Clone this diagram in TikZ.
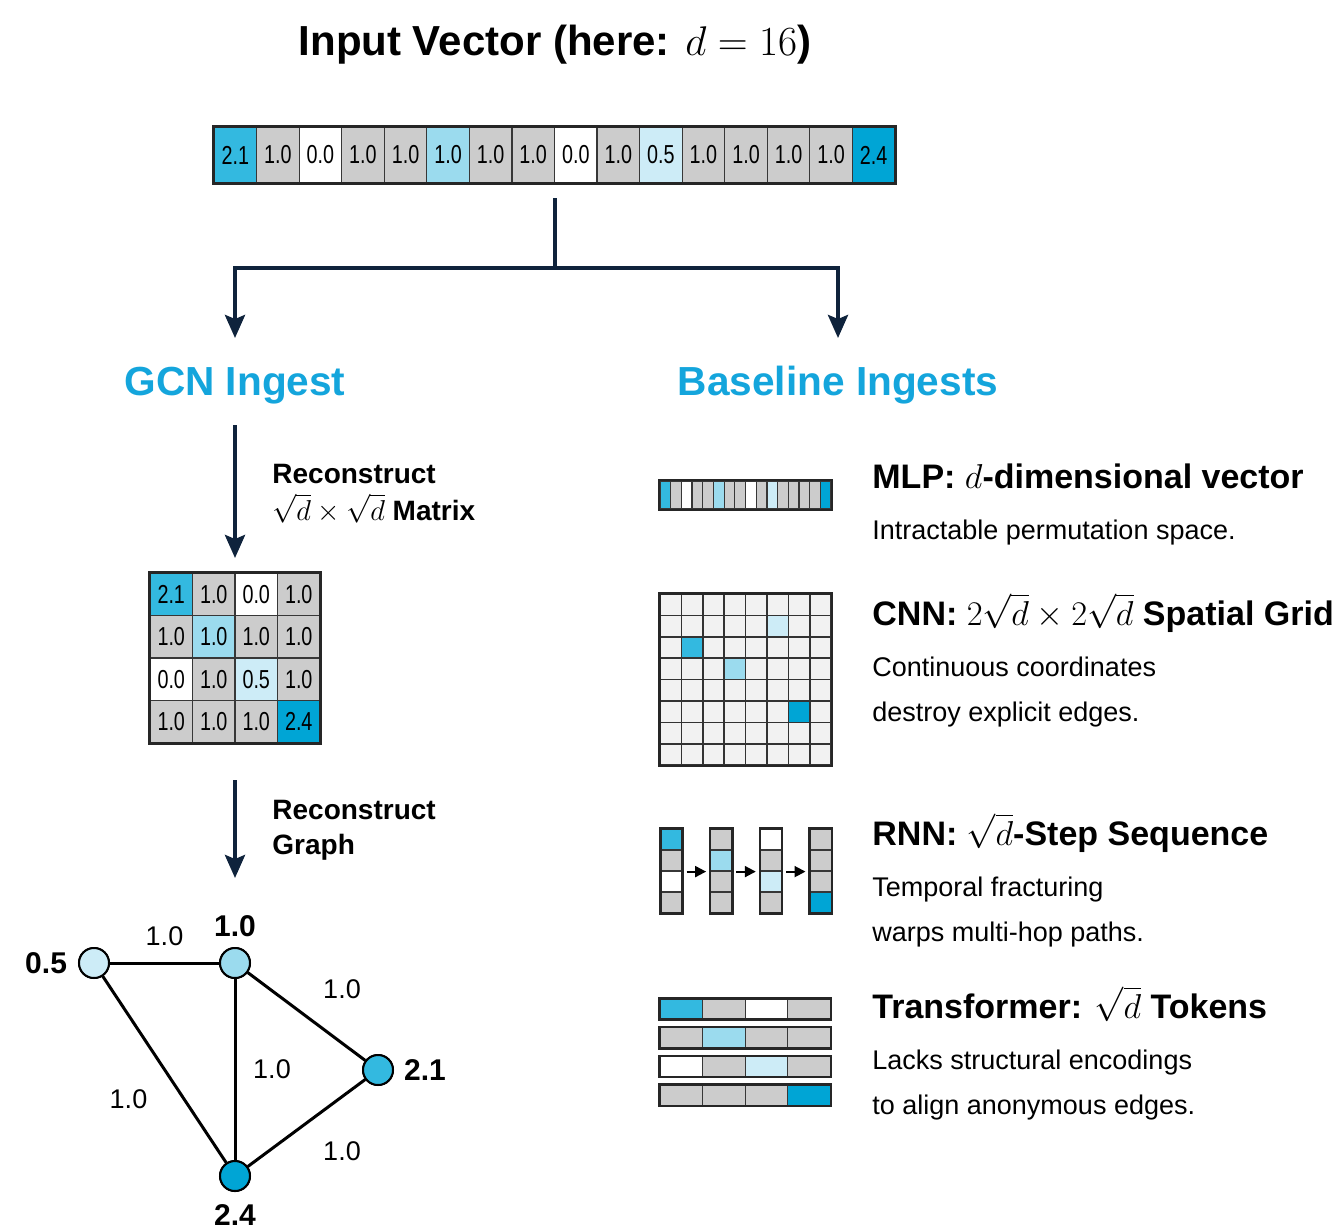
\documentclass[tikz,border=0pt]{standalone}
\usepackage[no-math]{fontspec}
\setmainfont{Liberation Sans}
\newfontfamily\cellfont[FakeStretch=0.76]{Liberation Sans}
\usetikzlibrary{arrows.meta}
\usetikzlibrary{positioning}

\definecolor{cmid}{RGB}{51,185,224}
\definecolor{clight}{RGB}{155,219,238}
\definecolor{cpale}{RGB}{205,236,247}
\definecolor{cdark}{RGB}{0,165,213}
\definecolor{cgray}{RGB}{204,204,204}
\definecolor{gridfill}{RGB}{242,242,242}
\definecolor{cellline}{RGB}{55,55,55}
\definecolor{navy}{RGB}{15,35,60}
\definecolor{headcyan}{RGB}{20,165,220}

\tikzset{
  cell/.style={draw=cellline, line width=0.6pt, inner sep=0pt, minimum width=21.28pt, minimum height=28pt,
    font=\cellfont\fontsize{13}{13}\selectfont},
  mcell/.style={cell, minimum width=21.25pt, minimum height=21.25pt},
  stripcell/.style={draw=cellline, line width=0.6pt, inner sep=0pt, minimum width=5.34pt, minimum height=14pt},
  gcell/.style={draw=black!80, fill=gridfill, line width=0.8pt, inner sep=0pt, minimum size=10.7pt},
  rcell/.style={draw=cellline, line width=0.6pt, inner sep=0pt, minimum width=10.5pt, minimum height=10.5pt},
  tcell/.style={draw=cellline, line width=0.6pt, inner sep=0pt, minimum width=21.25pt, minimum height=10pt},
  outer/.style={draw=black!85, line width=1.4pt},
  flow/.style={draw=navy, line width=2pt, -{Stealth[length=11.5pt,width=10pt,inset=2pt]}},
  tiny arrow/.style={draw=black, line width=1pt, -{Triangle[length=5.5pt,width=5.5pt]}},
  bigtitle/.style={font=\fontsize{21}{25}\selectfont\bfseries},
  heading/.style={font=\fontsize{20.3}{25}\selectfont\bfseries, text=headcyan},
  steplab/.style={font=\fontsize{14}{17}\selectfont\bfseries, inner sep=0pt},
  mtitle/.style={font=\fontsize{17}{20}\selectfont\bfseries, inner sep=0pt, anchor=base west},
  mdesc/.style={font=\fontsize{13.5}{16}\selectfont, inner sep=0pt, anchor=base west},
  vertex/.style={circle, draw=black, line width=1pt, minimum size=15pt, inner sep=0pt},
  vlab/.style={font=\fontsize{15}{18}\selectfont\bfseries},
  elab/.style={font=\fontsize{13.5}{16}\selectfont, inner sep=0pt},
  edge/.style={draw=black, line width=1.5pt},
  % highlighted squares of the spatial grid
  g26/.style={fill=cpale}, g32/.style={fill=cmid}, g44/.style={fill=clight}, g67/.style={fill=cdark}
}

\begin{document}
\begin{tikzpicture}[x=0.5pt,y=-0.5pt]
\useasboundingbox (0,0) rectangle (1342,1231);

%title
\node[bigtitle, anchor=base] (title) at (555,55) {Input Vector (here: $d=16$)};

%input vector
\foreach \val/\col [count=\i] in {2.1/cmid,1.0/cgray,0.0/white,1.0/cgray,1.0/cgray,1.0/clight,1.0/cgray,1.0/cgray,
    0.0/white,1.0/cgray,0.5/cpale,1.0/cgray,1.0/cgray,1.0/cgray,1.0/cgray,2.4/cdark}
  \node[cell, fill=\col] (v\i) at ({214+42.56*(\i-0.5)},155) {\val};
\draw[outer] (v1.north west) rectangle (v16.south east);

%split into the two ingests
\coordinate (vout) at (555,198);
\coordinate (split) at (555,268);
\coordinate (gcnin) at (235,338);
\coordinate (basein) at (838,338);
\draw[navy, line width=2pt] (vout) -- (split);
\draw[flow] (split) -| (gcnin);
\draw[flow] (split) -| (basein);

\node[heading, anchor=base] (gcn) at (235,395) {GCN Ingest};
\node[heading, anchor=base] (base) at (838,395) {Baseline Ingests};

%gcn: vector -> matrix
\coordinate (a1s) at (235,425);
\coordinate (a1e) at (235,558);
\draw[flow] (a1s) -- (a1e);
\node[steplab, anchor=base west] (rec1) at (272,483) {Reconstruct};
\node[steplab, anchor=base west] (rec1b) at (272,520) {$\sqrt{d}\times\sqrt{d}$ Matrix};

\foreach \row [count=\r] in {{2.1/cmid,1.0/cgray,0.0/white,1.0/cgray},{1.0/cgray,1.0/clight,1.0/cgray,1.0/cgray},
    {0.0/white,1.0/cgray,0.5/cpale,1.0/cgray},{1.0/cgray,1.0/cgray,1.0/cgray,2.4/cdark}}
  \foreach \val/\col [count=\c] in \row
    \node[mcell, fill=\col] (m\r\c) at ({150+42.5*(\c-0.5)},{573+42.5*(\r-0.5)}) {\val};
\draw[outer] (m11.north west) rectangle (m44.south east);

%gcn: matrix -> graph
\coordinate (a2s) at (235,780);
\coordinate (a2e) at (235,878);
\draw[flow] (a2s) -- (a2e);
\node[steplab, anchor=base west] (rec2) at (272,819) {Reconstruct};
\node[steplab, anchor=base west] (rec2b) at (272,854) {Graph};

%graph
\node[vertex, fill=cpale, label={[vlab, label distance=2pt]left:0.5}] (n05) at (94,963) {};
\node[vertex, fill=clight, label={[vlab, label distance=1.5pt]above:1.0}] (n10) at (235,963) {};
\node[vertex, fill=cmid, label={[vlab, label distance=1.5pt]right:2.1}] (n21) at (378,1070) {};
\node[vertex, fill=cdark, label={[vlab, label distance=2.5pt]below:2.4}] (n24) at (235,1176) {};
\draw[edge] (n05) -- node[elab, yshift=13.5pt] (e1) {1.0} (n10);
\draw[edge] (n10) -- node[elab, xshift=17.75pt, yshift=13.75pt] (e2) {1.0} (n21);
\draw[edge] (n10) -- node[elab, xshift=18.5pt] (e3) {1.0} (n24);
\draw[edge] (n05) -- node[elab, xshift=-18pt, yshift=-14.75pt] (e4) {1.0} (n24);
\draw[edge] (n21) -- node[elab, xshift=17.75pt, yshift=-14pt] (e5) {1.0} (n24);
% redraw vertices on top of the edges
\foreach \n/\col in {n05/cpale,n10/clight,n21/cmid,n24/cdark}
  \draw[line width=1pt, fill=\col] (\n) circle (7.5pt);

%MLP
\foreach \col [count=\i] in {cmid,cgray,white,cgray,cgray,clight,cgray,cgray,white,cgray,cpale,cgray,cgray,cgray,cgray,cdark}
  \node[stripcell, fill=\col] (s\i) at ({660+10.69*(\i-0.5)},495) {};
\draw[outer, line width=1pt] (s1.north west) rectangle (s16.south east);
\node[mtitle] (mlp) at (872,488) {MLP: $d$-dimensional vector};
\node[mdesc] (mlpd) at (872,539.5) {Intractable permutation space.};

%CNN
\foreach \r in {1,...,8}
  \foreach \c in {1,...,8}
    \node[gcell, g\r\c/.try] (g\r\c) at ({660+21.4*(\c-0.5)},{594+21.4*(\r-0.5)}) {};
\draw[outer] (g11.north west) rectangle (g88.south east);
\node[mtitle] (cnn) at (872,625) {CNN: $2\sqrt{d}\times2\sqrt{d}$ Spatial Grid};
\node[mdesc] (cnnd) at (872,676.5) {Continuous coordinates};
\node[mdesc] (cnnd2) at (872,721.5) {destroy explicit edges.};

%RNN
\foreach \colm [count=\j] in {{cmid,cgray,white,cgray},{cgray,clight,cgray,cgray},{white,cgray,cpale,cgray},{cgray,cgray,cgray,cdark}}
{
  \foreach \col [count=\k] in \colm
    \node[rcell, fill=\col] (r\j\k) at ({671.5+49.7*(\j-1)},{829+21*(\k-0.5)}) {};
  \draw[outer, line width=1.2pt] (r\j1.north west) rectangle (r\j4.south east);
}
\draw[tiny arrow] ([xshift=2pt]r12.south east) -- ([xshift=-2pt]r22.south west);
\draw[tiny arrow] ([xshift=2pt]r22.south east) -- ([xshift=-2pt]r32.south west);
\draw[tiny arrow] ([xshift=2pt]r32.south east) -- ([xshift=-2pt]r42.south west);
\node[mtitle] (rnn) at (872,845) {RNN: $\sqrt{d}$-Step Sequence};
\node[mdesc] (rnnd) at (872,896.5) {Temporal fracturing};
\node[mdesc] (rnnd2) at (872,941.5) {warps multi-hop paths.};

%Transformer
\foreach \rowm [count=\j] in {{cmid,cgray,white,cgray},{cgray,clight,cgray,cgray},{white,cgray,cpale,cgray},{cgray,cgray,cgray,cdark}}
{
  \foreach \col [count=\k] in \rowm
    \node[tcell, fill=\col] (t\j\k) at ({660+42.6*(\k-0.5)},{1009+28.7*(\j-1)}) {};
  \draw[outer, line width=1.2pt] (t\j1.north west) rectangle (t\j4.south east);
}
\node[mtitle] (trf) at (872,1018) {Transformer: $\sqrt{d}$ Tokens};
\node[mdesc] (trfd) at (872,1069.5) {Lacks structural encodings};
\node[mdesc] (trfd2) at (872,1114.5) {to align anonymous edges.};
\end{tikzpicture}
\end{document}
